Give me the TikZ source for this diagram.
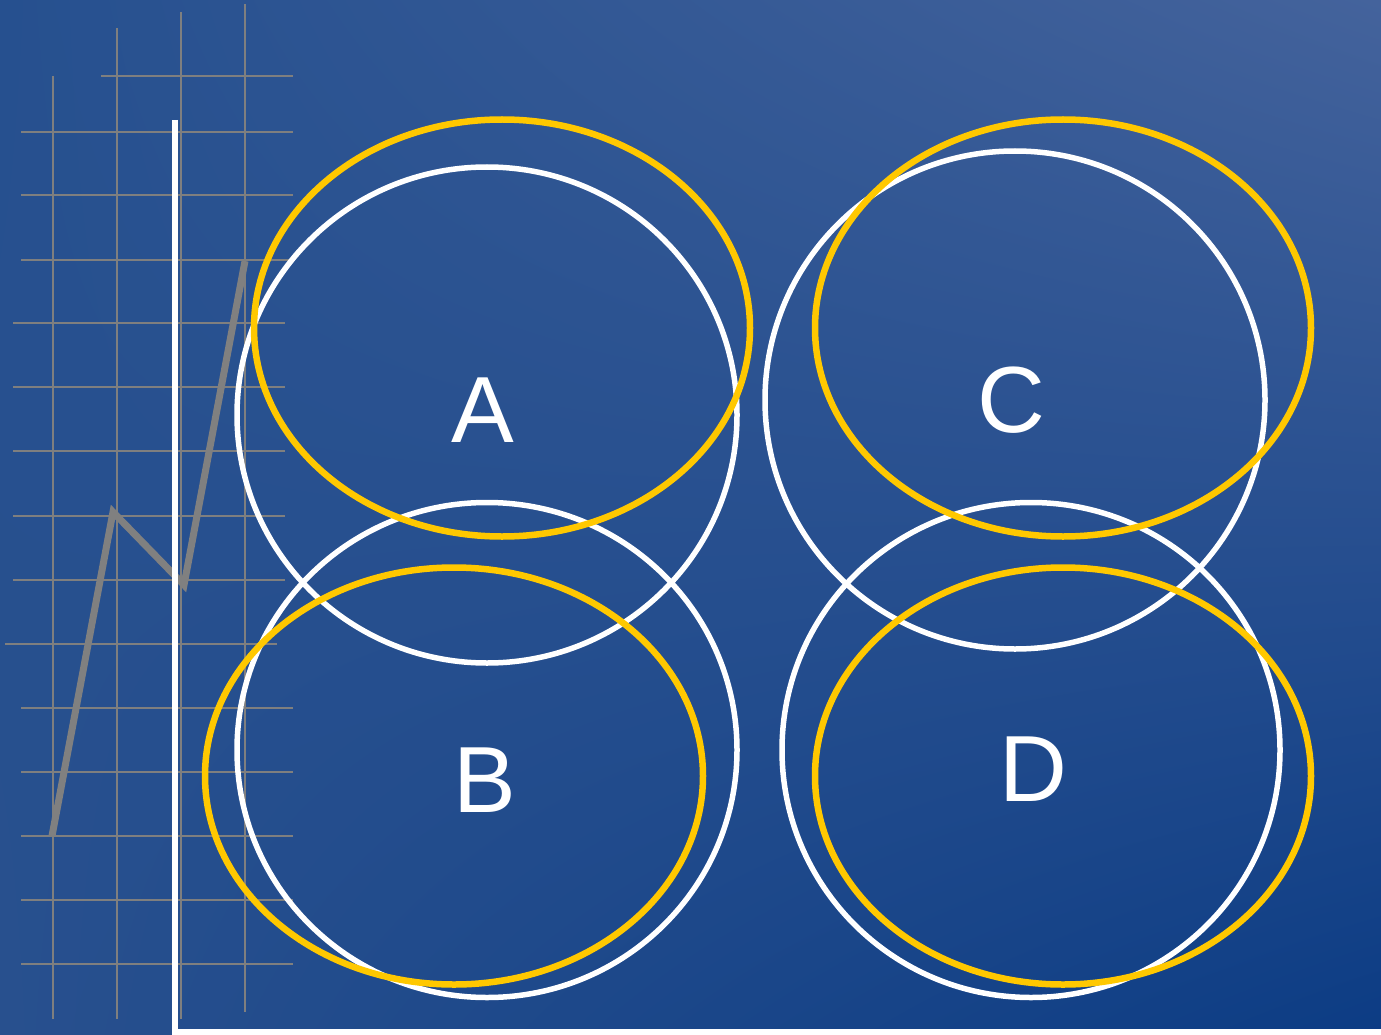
\documentclass[tikz,border=0pt]{standalone}
\usepackage{fontspec}
\setmainfont{Liberation Sans}
\usepackage{xcolor}
\definecolor{bgtl}{HTML}{26508F}
\definecolor{bgtr}{HTML}{44639C}
\definecolor{bgbl}{HTML}{28508E}
\definecolor{bgbr}{HTML}{0C3C84}
\definecolor{gridc}{HTML}{7F7F7F}
\definecolor{chartc}{HTML}{808080}
\definecolor{gold}{HTML}{FFC800}
\usetikzlibrary{shapes.geometric,shadings}
\tikzset{
  gridline/.style={draw=gridc,line width=1.5pt},
  chart/.style={draw=chartc,line width=7pt,line join=miter},
  axisline/.style={draw=white,line width=6pt},
  wring/.style={ellipse,draw=white,line width=5.5pt,inner sep=0pt},
  yring/.style={ellipse,draw=gold,line width=6.5pt,inner sep=0pt},
  letter/.style={anchor=base,text=white,inner sep=0pt,font=\fontsize{94}{94}\selectfont},
}

\begin{document}
\begin{tikzpicture}[x=1pt,y=-1pt]
  \useasboundingbox (0,0) rectangle (1381,1035);
  % ---- background ----
  \shade[upper left=bgtl,upper right=bgtr,lower left=bgbl,lower right=bgbr]
    (0,0) rectangle (1381,1035);

  % ---- grid ----
  \foreach \x/\ya/\yb in {53/76/1019,117/28/1019,181/12/1019,245/4/1012}
    \draw[gridline] (\x,\ya) -- (\x,\yb);
  \draw[gridline] (101,76) -- (293,76);
  \foreach \y in {132,195,260,708,772,836,900,964}
    \draw[gridline] (21,\y) -- (293,\y);
  \foreach \y in {323,387,451,516,580}
    \draw[gridline] (13,\y) -- (285,\y);
  \draw[gridline] (5,644) -- (277,644);

  % ---- chart line and axes ----
  \coordinate (p0) at (52,836);
  \coordinate (p1) at (113,512);
  \coordinate (p2) at (184,585);
  \coordinate (p3) at (245,261);
  \draw[chart] (p0) -- (p1) -- (p2) -- (p3);
  \coordinate (axtop) at (175,120);
  \coordinate (axend) at (1381,1032);
  \draw[axisline] (axtop) |- (axend);

  % ---- rings ----
  \node[wring,minimum width=500pt,minimum height=496pt] (wA) at (487,415) {};
  \node[wring,minimum width=500pt,minimum height=495pt] (wB) at (487,750) {};
  \node[wring,minimum width=500pt,minimum height=498pt] (wC) at (1015,400) {};
  \node[wring,minimum width=498pt,minimum height=495pt] (wD) at (1031,750) {};
  \node[yring,minimum width=496pt,minimum height=417pt] (yA) at (502,328) {};
  \node[yring,minimum width=498pt,minimum height=417pt] (yB) at (454,776) {};
  \node[yring,minimum width=496pt,minimum height=417pt] (yC) at (1063,328) {};
  \node[yring,minimum width=496pt,minimum height=417pt] (yD) at (1063,776) {};

  % ---- labels ----
  \node[letter] (labA) at (483,442) {A};
  \node[letter] (labB) at (485,812) {B};
  \node[letter] (labC) at (1011,432) {C};
  \node[letter] (labD) at (1033,801) {D};
\end{tikzpicture}
\end{document}
